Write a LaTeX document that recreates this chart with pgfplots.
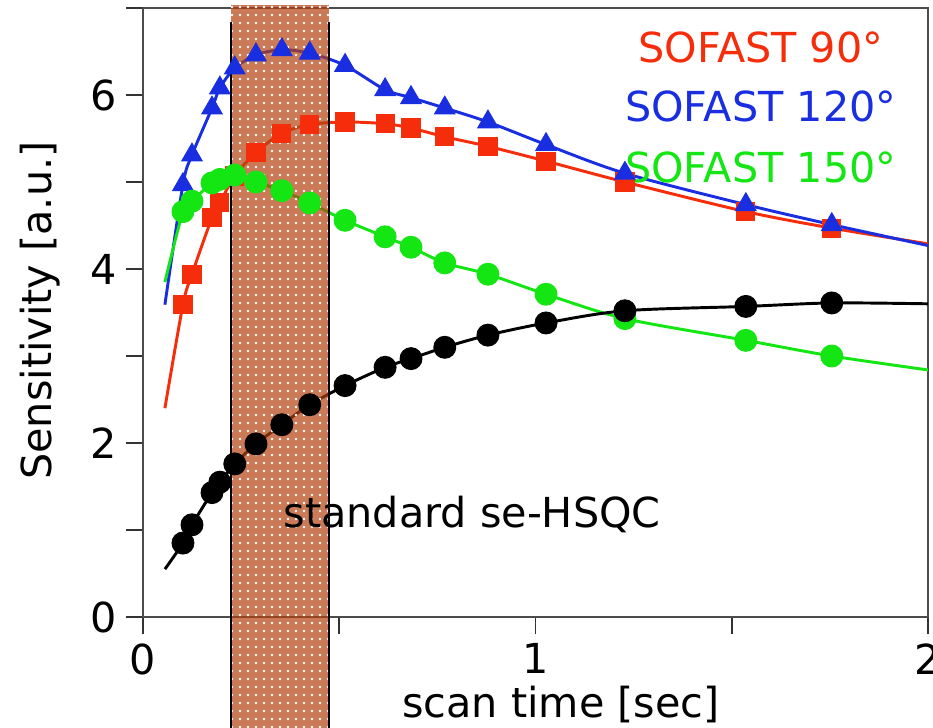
\documentclass[border=0pt]{standalone}
\usepackage{fontspec}
\setmainfont{DejaVu Sans}
\usepackage{pgfplots}
\usepackage{pgfplotstable}
\pgfplotsset{compat=1.18}
\usetikzlibrary{patterns}
\definecolor{sred}{RGB}{245,45,10}
\definecolor{sblue}{RGB}{25,45,225}
\definecolor{sgreen}{RGB}{20,230,20}
\definecolor{bandc}{RGB}{180,65,15}
\newcommand\bigf{\fontsize{15.5}{18}\selectfont}

\pgfplotstableread{
x      red   blue  green black
0.102  3.59  4.97  4.66  0.85
0.125  3.94  5.31  4.78  1.06
0.176  4.59  5.85  4.99  1.43
0.196  4.76  6.08  5.03  1.55
0.234  5.07  6.31  5.08  1.76
0.288  5.34  6.46  5.00  1.99
0.354  5.56  6.52  4.90  2.21
0.425  5.66  6.48  4.76  2.44
0.515  5.69  6.34  4.56  2.66
0.617  5.67  6.06  4.37  2.87
0.683  5.62  5.97  4.25  2.97
0.769  5.52  5.85  4.07  3.10
0.879  5.41  5.69  3.94  3.24
1.027  5.24  5.43  3.71  3.38
1.228  5.00  5.10  3.43  3.52
1.536  4.66  4.74  3.18  3.57
1.755  4.47  4.51  3.00  3.61
}\markers

\pgfplotstableread{
x      red   blue  green black
0.056  2.40  3.59  3.85  0.55
0.102  3.59  4.97  4.66  0.85
0.125  3.94  5.31  4.78  1.06
0.176  4.59  5.85  4.99  1.43
0.196  4.76  6.08  5.03  1.55
0.234  5.07  6.31  5.08  1.76
0.288  5.34  6.46  5.00  1.99
0.354  5.56  6.52  4.90  2.21
0.425  5.66  6.48  4.76  2.44
0.515  5.69  6.34  4.56  2.66
0.617  5.67  6.06  4.37  2.87
0.683  5.62  5.97  4.25  2.97
0.769  5.52  5.85  4.07  3.10
0.879  5.41  5.69  3.94  3.24
1.027  5.24  5.43  3.71  3.38
1.228  5.00  5.10  3.43  3.52
1.536  4.66  4.74  3.18  3.57
1.755  4.47  4.51  3.00  3.61
2.000  4.29  4.27  2.84  3.60
}\fits

\begin{document}
\begin{tikzpicture}
\begin{axis}[
  scale only axis,
  width=294.4pt, height=228.4pt,
  xmin=0, xmax=2, ymin=0, ymax=7,
  clip=false,
  axis line style={draw=black!70, line width=0.7pt},
  tick align=outside,
  xtick pos=bottom, ytick pos=left,
  major tick length=6.4pt,
  tick style={black!80, line width=0.7pt},
  xtick={0,0.5,1,1.5,2}, xticklabels={0,,1,,2},
  ytick={0,1,2,3,4,5,6,7}, yticklabels={0,,2,,4,,6,},
  /pgf/number format/assume math mode=true,
  ticklabel style={font=\bigf},
  xlabel={scan time [sec]},
  ylabel={Sensitivity [a.u.]},
  label style={font=\bigf},
  xlabel style={at={(rel axis cs:0.5325,0)}, anchor=center, yshift=-33pt},
  ylabel style={at={(rel axis cs:0,0.503)}, anchor=center, yshift=38.6pt},
]
% fitted curves
\addplot[sred, line width=1.1pt, smooth, tension=0.5, no marks] table[x=x, y=red] {\fits};
\addplot[sred, only marks, mark=square*, mark size=3.4pt] table[x=x, y=red] {\markers};
\addplot[sblue, line width=1.1pt, smooth, tension=0.5, no marks] table[x=x, y=blue] {\fits};
\addplot[sblue, only marks, mark=triangle*, mark size=4.4pt] table[x=x, y=blue] {\markers};
\addplot[sgreen, line width=1.1pt, smooth, tension=0.5, no marks] table[x=x, y=green] {\fits};
\addplot[sgreen, only marks, mark=*, mark size=4.1pt] table[x=x, y=green] {\markers};
\addplot[black, line width=1.1pt, smooth, tension=0.5, no marks] table[x=x, y=black] {\fits};
\addplot[black, only marks, mark=*, mark size=4.1pt] table[x=x, y=black] {\markers};

% shaded band (standard se-HSQC range)
\fill[bandc, fill opacity=0.7] (axis cs:0.2242,-1.3) rectangle (axis cs:0.4739,7.03);
\fill[pattern=dots, pattern color=white] (axis cs:0.2242,-1.3) rectangle (axis cs:0.4739,7.03);
\draw[black, line width=0.8pt] (axis cs:0.2242,6.84) -- (axis cs:0.2242,-1.3);
\draw[black, line width=0.8pt] (axis cs:0.4739,6.84) -- (axis cs:0.4739,-1.3);

\node[anchor=base, text=sred, font=\bigf] at (axis cs:1.574,6.37) {SOFAST 90°};
\node[anchor=base, text=sblue, font=\bigf] at (axis cs:1.574,5.69) {SOFAST 120°};
\node[anchor=base, text=sgreen, font=\bigf] at (axis cs:1.574,5.00) {SOFAST 150°};
\node[anchor=base west, inner sep=0pt, font=\bigf] at (axis cs:0.357,1.034) {standard se-HSQC};

\coordinate (bl) at (rel axis cs:0,0);
\coordinate (tr) at (rel axis cs:1,1);
\end{axis}
\pgfresetboundingbox
\path[use as bounding box] ([shift={(-53.6pt,-41.25pt)}]bl) rectangle ([shift={(1.9pt,3pt)}]tr);
\end{tikzpicture}
\end{document}
